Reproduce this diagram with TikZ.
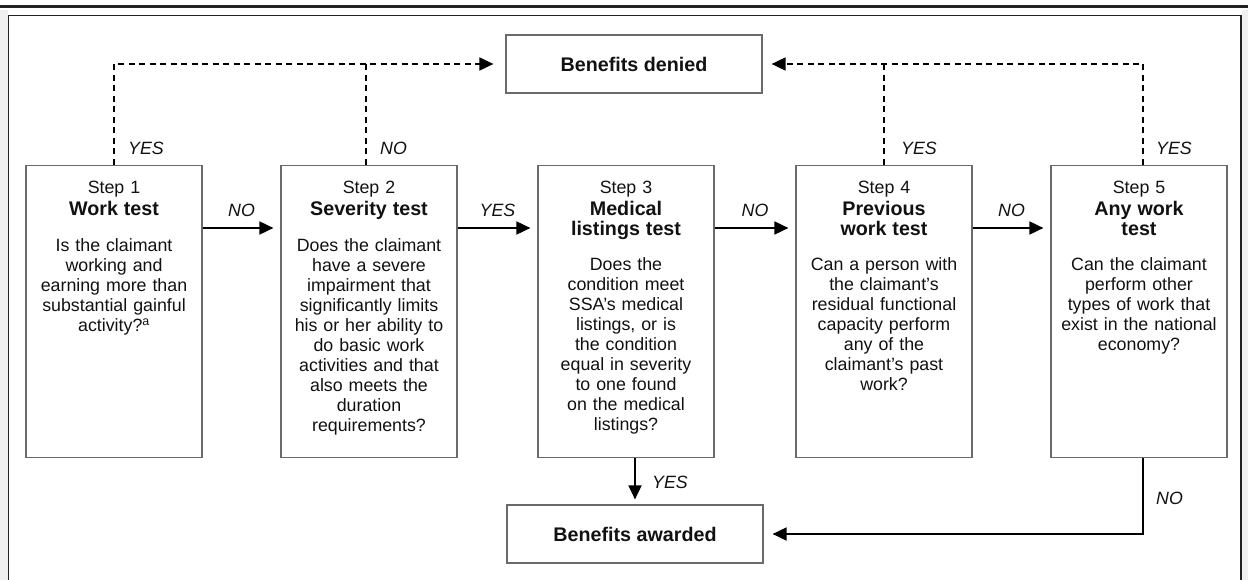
\documentclass[tikz,border=0pt]{standalone}
\usepackage{fontspec}
\setmainfont{Liberation Sans}
\usetikzlibrary{arrows.meta}
\definecolor{txt}{HTML}{111111}
\definecolor{boxgray}{HTML}{6A6A6A}
\definecolor{rule}{HTML}{222222}
\begin{document}
\begin{tikzpicture}[x=1pt,y=-1pt,
  stepbox/.style={draw=boxgray, line width=1.2pt, minimum width=176pt, minimum height=292pt, anchor=north, inner sep=0pt},
  steptext/.style={anchor=north, inner sep=0pt, text width=172pt, align=center, font=\fontsize{17.8}{20}\selectfont, text=txt},
  endbox/.style={draw=boxgray, line width=1.2pt, minimum width=256pt, minimum height=58pt, inner sep=0pt, font=\bfseries\fontsize{19.7}{20}\selectfont, text=txt},
  lab/.style={font=\itshape\fontsize{17.8}{20}\selectfont, text=txt, inner sep=0pt},
  flow/.style={line width=1.8pt, draw=black, -{Triangle[length=14pt,width=13pt]}},
  dashline/.style={line width=1.8pt, draw=black, dash pattern=on 6pt off 4.5pt},
  deny/.style={dashline, -{Triangle[length=14pt,width=13pt]}},
]
\useasboundingbox (0,0) rectangle (1248,580);
% page frame
\fill[gray!12] (0,10) rectangle (8,580);
\fill[gray!12] (1242,10) rectangle (1248,580);
\draw[line width=3pt, rule] (0,7) -- (1248,7);
\draw[line width=1.1pt, rule] (8.5,580) -- (8.5,15.5) -- (1241,15.5) -- (1241,580);

% boxes
\node[stepbox] (s1) at (114,165) {};
\node[stepbox] (s2) at (369,165) {};
\node[stepbox] (s3) at (626,165) {};
\node[stepbox] (s4) at (884,165) {};
\node[stepbox] (s5) at (1139,165) {};
\node[endbox] (den) at (634,64) {Benefits denied};
\node[endbox] (aw) at (635,534) {Benefits awarded};

% texts
\newcommand{\ttlfont}{\bfseries\fontsize{19.7}{20}\selectfont}
\node[steptext] (t1) at (114,181) {Step 1\\[1.5pt]{\ttlfont Work test}\\[16.5pt]Is the claimant\\working and\\earning more than\\substantial gainful\\activity?\textsuperscript{a}};
\node[steptext] (t2) at (369,181) {Step 2\\[1.5pt]{\ttlfont Severity test}\\[16.5pt]Does the claimant\\have a severe\\impairment that\\significantly limits\\his or her ability to\\do basic work\\activities and that\\also meets the\\duration\\requirements?};
\node[steptext] (t3) at (626,181) {Step 3\\[1.5pt]{\ttlfont Medical}\\{\ttlfont listings test}\\[15pt]Does the\\condition meet\\SSA’s medical\\listings, or is\\the condition\\equal in severity\\to one found\\on the medical\\listings?};
\node[steptext] (t4) at (884,181) {Step 4\\[1.5pt]{\ttlfont Previous}\\{\ttlfont work test}\\[15pt]Can a person with\\the claimant’s\\residual functional\\capacity perform\\any of the\\claimant’s past\\work?};
\node[steptext] (t5) at (1139,181) {Step 5\\[1.5pt]{\ttlfont Any work}\\{\ttlfont test}\\[15pt]Can the claimant\\perform other\\types of work that\\exist in the national\\economy?};

% forward arrows
\draw[flow, shorten >=7pt] ([yshift=-63pt]s1.north east) -- ([yshift=-63pt]s2.north west) node[lab, midway, above=10.5pt] (l12) {NO};
\draw[flow, shorten >=7pt] ([yshift=-63pt]s2.north east) -- ([yshift=-63pt]s3.north west) node[lab, midway, above=10.5pt] (l23) {YES};
\draw[flow, shorten >=7pt] ([yshift=-63pt]s3.north east) -- ([yshift=-63pt]s4.north west) node[lab, midway, above=10.5pt] (l34) {NO};
\draw[flow, shorten >=7pt] ([yshift=-63pt]s4.north east) -- ([yshift=-63pt]s5.north west) node[lab, midway, above=10.5pt] (l45) {NO};

% denied connectors
\draw[deny, shorten >=12pt] (s1.north) |- (den.west);
\draw[dashline] ([xshift=-3pt]s2.north) -- ([xshift=-3pt]s2.north |- den.west);
\draw[deny, shorten >=9pt] ([xshift=4pt]s5.north) |- (den.east);
\draw[dashline] (s4.north) -- (s4.north |- den.east);
\node[lab, anchor=west] (y1) at (128,148) {YES};
\node[lab, anchor=west] (n2) at (380,148) {NO};
\node[lab, anchor=west] (y4) at (901,148) {YES};
\node[lab, anchor=west] (y5) at (1156,148) {YES};

% awarded connectors
\draw[flow, shorten >=5pt] (s3.south -| aw.north) -- (aw.north);
\node[lab, anchor=west] (y3) at (652,482) {YES};
\draw[flow, shorten >=9pt] ([xshift=4pt]s5.south) |- (aw.east);
\node[lab, anchor=west] (n5) at (1156,498) {NO};
\end{tikzpicture}
\end{document}
